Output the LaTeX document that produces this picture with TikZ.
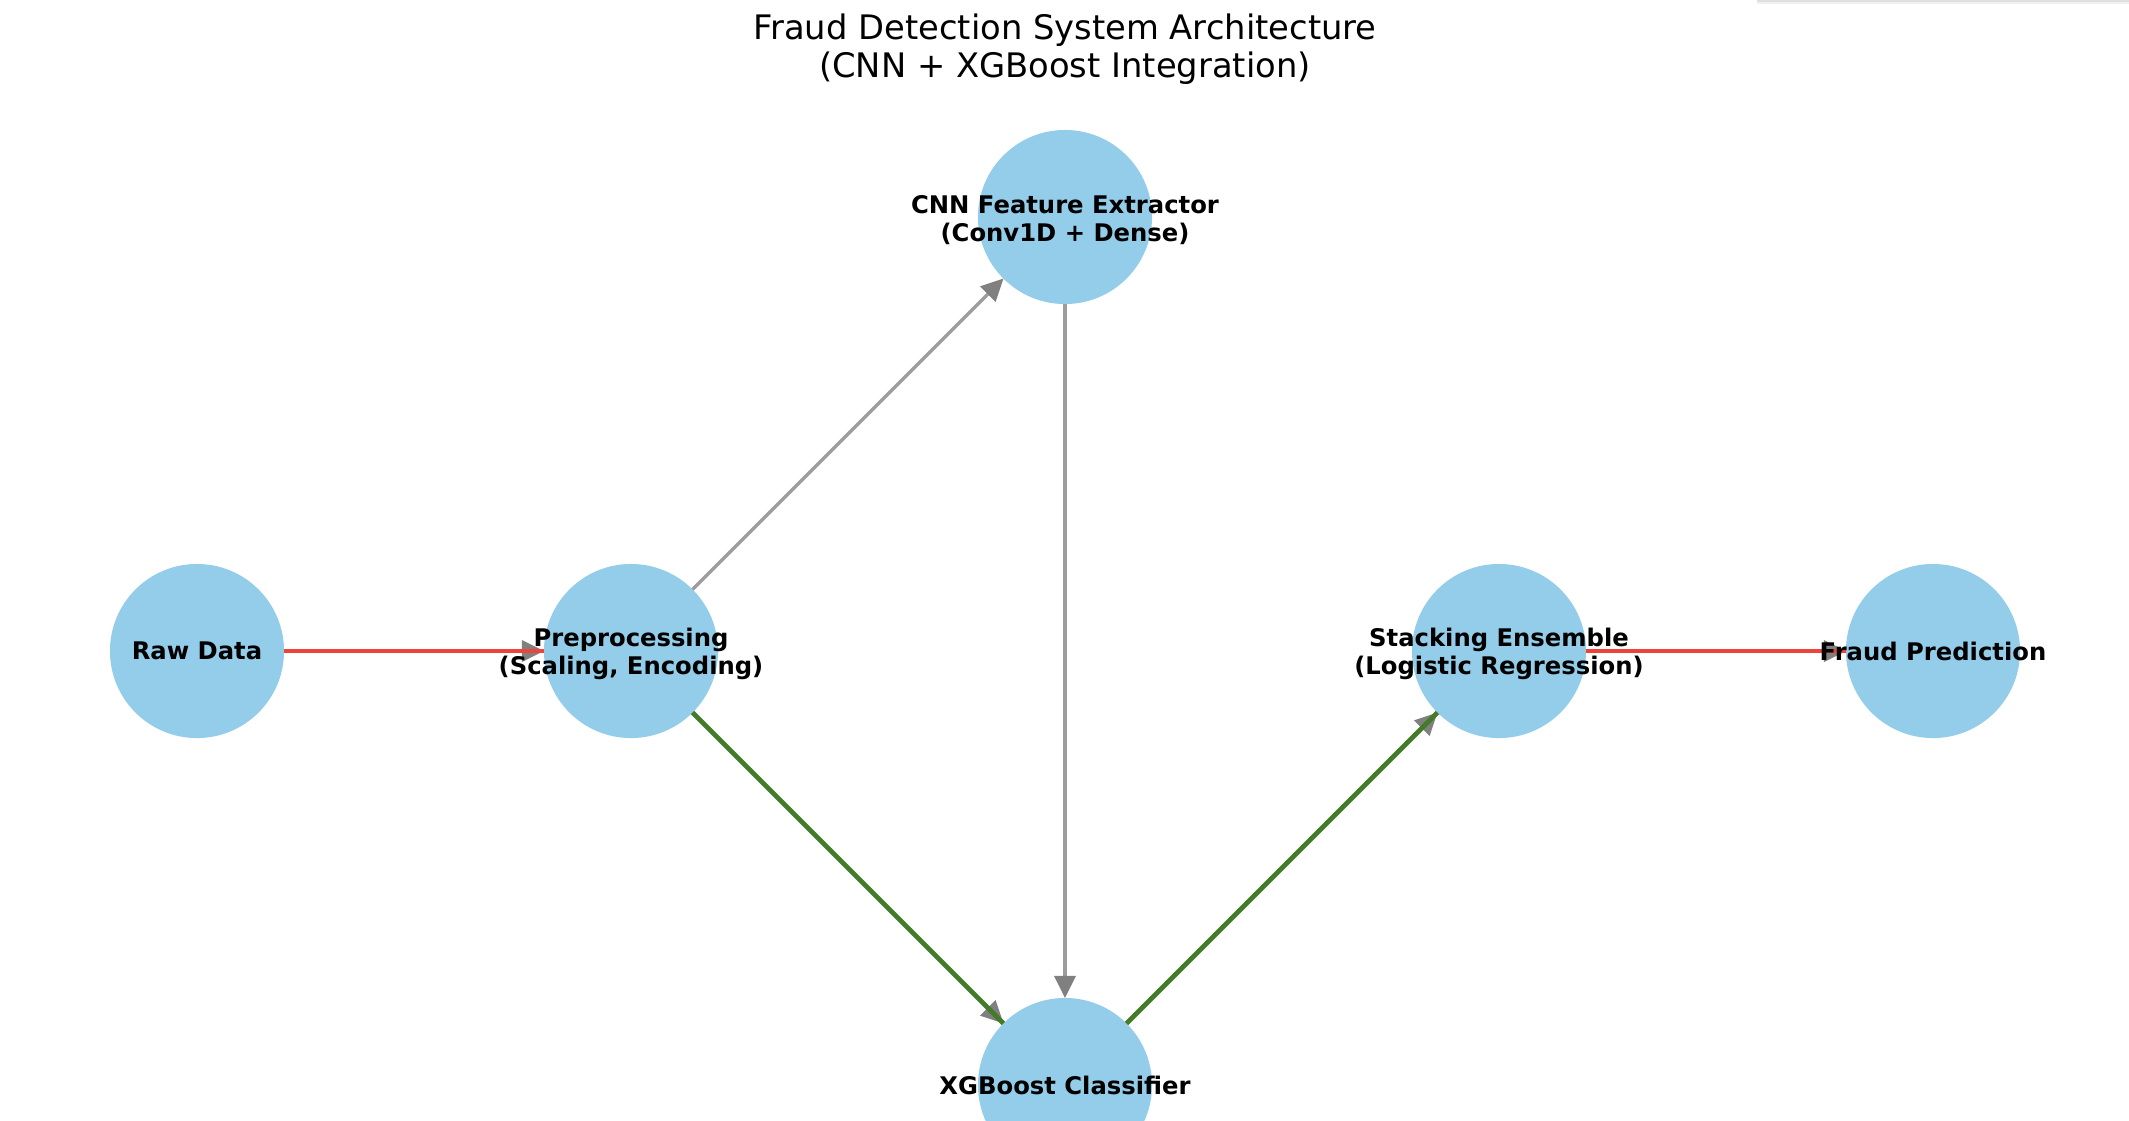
\documentclass[tikz,border=0pt]{standalone}
\usepackage{fontspec}
\setmainfont{DejaVu Sans}
\usetikzlibrary{arrows.meta}
\definecolor{nodeblue}{RGB}{147,205,234}
\definecolor{edgegray}{RGB}{156,156,156}
\definecolor{headgray}{RGB}{128,128,128}
\definecolor{flowred}{RGB}{236,68,56}
\definecolor{flowgreen}{RGB}{68,122,42}
\begin{document}
\begin{tikzpicture}[x=0.01cm,y=-0.01cm,
  proc/.style={circle, fill=nodeblue, minimum size=1.74cm, inner sep=0pt, outer sep=0pt},
  lbl/.style={align=center, inner sep=0pt, font=\fontsize{6.9pt}{8.1pt}\selectfont\bfseries},
  base/.style={draw=edgegray, line width=0.95pt, -{Triangle[length=6.3pt,width=6.3pt,color=headgray,fill=headgray,line width=0pt]}},
  redflow/.style={draw=flowred, line width=1.35pt},
  greenflow/.style={draw=flowgreen, line width=1.35pt}]
\useasboundingbox (0,0) rectangle (2129,1120);
\clip (0,0) rectangle (2129,1120);
\fill[white] (0,0) rectangle (2129,1120);
% faint clipped legend shadow at top right
\draw[black!6, line width=2.4pt] (1757,0) -- (2129,0);
\draw[black!12, line width=0.9pt] (1757,0) -- (2129,0);

\node (title) at (1065,49) [align=center, inner sep=0pt, font=\fontsize{9.6pt}{10.8pt}\selectfont]
  {Fraud Detection System Architecture\\(CNN + XGBoost Integration)};

\node[proc] (raw) at (197,651) {};
\node[proc] (prep) at (631,651) {};
\node[proc] (cnn) at (1065,217) {};
\node[proc] (xgb) at (1065,1085) {};
\node[proc] (stack) at (1499,651) {};
\node[proc] (fraud) at (1933,651) {};

\draw[base] (raw) -- (prep);
\draw[base] (prep) -- (cnn);
\draw[base] (prep) -- (xgb);
\draw[base] (cnn) -- (xgb);
\draw[base] (xgb) -- (stack);
\draw[base] (stack) -- (fraud);

\draw[redflow] (raw) -- (prep);
\draw[redflow] (stack) -- (fraud);
\draw[greenflow] (prep) -- (xgb);
\draw[greenflow] (xgb) -- (stack);

\node[lbl] (rawL) at (raw) {Raw Data};
\node[lbl] (prepL) at ([yshift=-0.03cm]prep.center) {Preprocessing\\(Scaling, Encoding)};
\node[lbl] (cnnL) at ([yshift=-0.03cm]cnn.center) {CNN Feature Extractor\\(Conv1D + Dense)};
\node[lbl] (xgbL) at (xgb) {XGBoost Classifier};
\node[lbl] (stackL) at ([yshift=-0.03cm]stack.center) {Stacking Ensemble\\(Logistic Regression)};
\node[lbl] (fraudL) at (fraud) {Fraud Prediction};
\end{tikzpicture}
\end{document}
